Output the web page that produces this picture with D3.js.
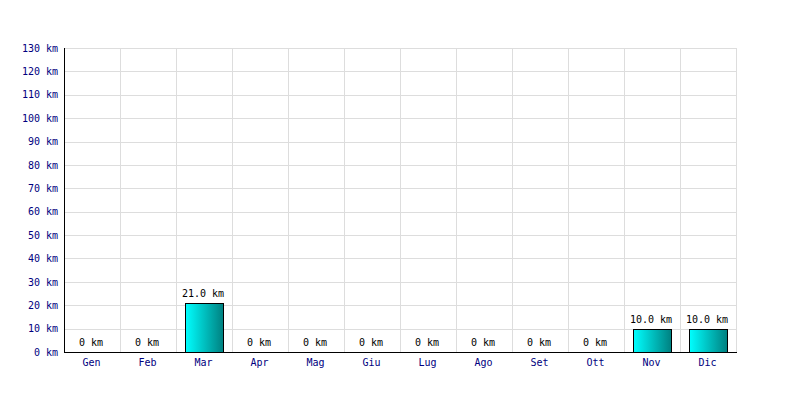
<!DOCTYPE html>
<html><head><meta charset="utf-8">
<script src="https://cdn.jsdelivr.net/npm/d3@7"></script>
<style>body{margin:0;background:#fff}svg{display:block}</style>
</head><body>
<svg id="c" width="800" height="400"></svg>
<script>
const months = ["Gen","Feb","Mar","Apr","Mag","Giu","Lug","Ago","Set","Ott","Nov","Dic"];
const values = [0,0,21,0,0,0,0,0,0,0,10,10];
const yTicks = [0,10,20,30,40,50,60,70,80,90,100,110,120,130];

const svg = d3.select("#c");
const L=65, R=737, T=48, B=352;
const x = d3.scaleBand().domain(months).range([L,R]).paddingInner(0.32).paddingOuter(0.16);
const xg = d3.scaleBand().domain(months).range([L,R]);
const y = d3.scaleLinear().domain([0,130]).range([B,T]);
const font = "'DejaVu Sans Mono', monospace";

const defs = svg.append("defs");
const g = defs.append("linearGradient").attr("id","grad").attr("x1","0").attr("x2","1").attr("y1","0").attr("y2","0");
g.append("stop").attr("offset","0%").attr("stop-color","#00ffff");
g.append("stop").attr("offset","100%").attr("stop-color","#008080");

// grid
svg.append("g").selectAll("line").data(yTicks.filter(d=>d>0)).join("line")
  .attr("x1",L).attr("x2",R).attr("y1",d=>Math.round(y(d))+0.5).attr("y2",d=>Math.round(y(d))+0.5)
  .attr("stroke","#dddddd");
svg.append("g").selectAll("line").data(months).join("line")
  .attr("x1",d=>xg(d)+xg.bandwidth()-0.5).attr("x2",d=>xg(d)+xg.bandwidth()-0.5)
  .attr("y1",T).attr("y2",B).attr("stroke","#dddddd");

// bars
svg.append("g").selectAll("rect").data(months.map((m,i)=>({m,v:values[i]})).filter(d=>d.v>0)).join("rect")
  .attr("x",d=>Math.floor(x(d.m))+0.5).attr("width",Math.round(x.bandwidth()))
  .attr("y",d=>Math.round(y(d.v))+0.5).attr("height",d=>B-Math.round(y(d.v)))
  .attr("fill","url(#grad)").attr("stroke","#000").attr("stroke-width",1);

// value labels
svg.append("g").selectAll("text").data(months.map((m,i)=>({m,v:values[i]}))).join("text")
  .attr("x",d=>x(d.m)+x.bandwidth()/2-2).attr("y",d=>y(d.v)-6)
  .attr("text-anchor","middle").attr("font-family",font).attr("font-size",10).attr("fill","#000")
  .text(d=>d.v===0?"0 km":d.v.toFixed(1)+" km");

// axes
const ya = svg.append("g").attr("transform",`translate(${L},0)`)
  .call(d3.axisLeft(y).tickValues(yTicks).tickSize(0).tickPadding(7).tickFormat(d=>d+" km"));
ya.select(".domain").remove();
ya.selectAll("text").attr("font-family",font).attr("font-size",10).attr("fill","#000080");
const xa = svg.append("g").attr("transform",`translate(-1.5,${B})`)
  .call(d3.axisBottom(xg).tickSize(0).tickPadding(7));
xa.select(".domain").remove();
xa.selectAll("text").attr("font-family",font).attr("font-size",10).attr("fill","#000080");

svg.append("line").attr("x1",L-0.5).attr("x2",L-0.5).attr("y1",T).attr("y2",B+1).attr("stroke","#000");
svg.append("line").attr("x1",L-1).attr("x2",R).attr("y1",B+0.5).attr("y2",B+0.5).attr("stroke","#000");
</script>
</body></html>
